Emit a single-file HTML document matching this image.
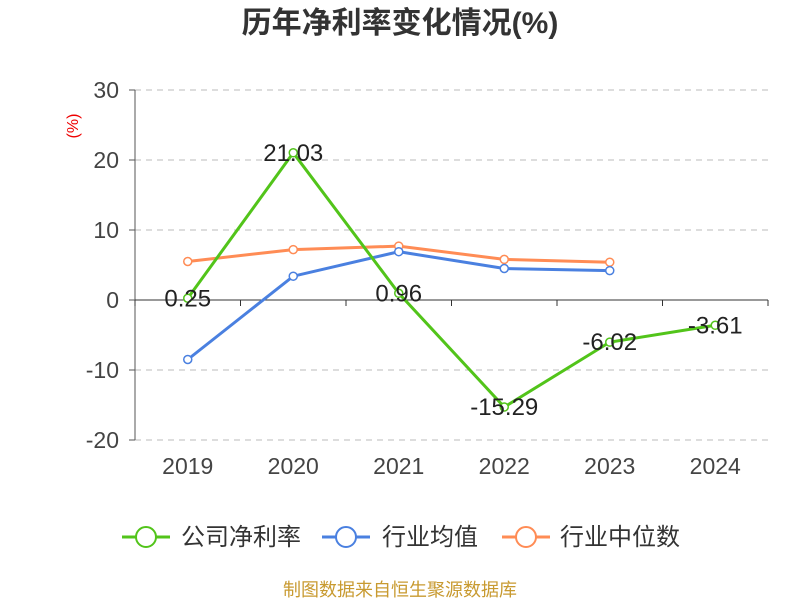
<!DOCTYPE html>
<html><head><meta charset="utf-8"><style>
body{margin:0;background:#fff;}
svg text{font-family:"Liberation Sans","Noto Sans CJK SC",sans-serif;}
</style></head><body>
<svg width="800" height="600" viewBox="0 0 800 600">
<text x="400" y="33" text-anchor="middle" font-size="30" font-weight="bold" fill="#333">历年净利率变化情况(%)</text>
<text x="78" y="126" text-anchor="middle" font-size="16" fill="#e00" transform="rotate(-90 78 126)">(%)</text>
<g id="grid"></g><g id="axes"></g><g id="series"></g>
<g>
<g><line x1="122" y1="537" x2="170" y2="537" stroke="#52c41a" stroke-width="3"/><circle cx="146" cy="537" r="10" fill="#fff" stroke="#52c41a" stroke-width="2"/><text x="181" y="545" font-size="24" fill="#333">公司净利率</text></g>
<g><line x1="322" y1="537" x2="370" y2="537" stroke="#4a80e0" stroke-width="3"/><circle cx="346" cy="537" r="10" fill="#fff" stroke="#4a80e0" stroke-width="2"/><text x="382" y="545" font-size="24" fill="#333">行业均值</text></g>
<g><line x1="502" y1="537" x2="550" y2="537" stroke="#ff8c55" stroke-width="3"/><circle cx="526" cy="537" r="10" fill="#fff" stroke="#ff8c55" stroke-width="2"/><text x="560" y="545" font-size="24" fill="#333">行业中位数</text></g>
</g>
<text x="400" y="596" text-anchor="middle" font-size="18" fill="#c89a30">制图数据来自恒生聚源数据库</text>
</svg>
<script>
const categories=["2019","2020","2021","2022","2023","2024"];
const companyValues=[0.25,21.03,0.96,-15.29,-6.02,-3.61];
const industryAvg=[-8.5,3.4,6.9,4.5,4.2];
const industryMedian=[5.5,7.2,7.7,5.8,5.4];
const yTicks=[30,20,10,0,-10,-20];
const NS="http://www.w3.org/2000/svg";
const x0=135,x1=768,yTop=90,yBot=440,yMax=30,yMin=-20;
const bw=(x1-x0)/categories.length;
const xs=i=>x0+bw*(i+0.5);
const ys=v=>yTop+(yMax-v)/(yMax-yMin)*(yBot-yTop);
function mk(tag,attrs,parent){const e=document.createElementNS(NS,tag);for(const k in attrs)e.setAttribute(k,attrs[k]);parent.appendChild(e);return e;}
const grid=document.getElementById('grid'),axes=document.getElementById('axes'),ser=document.getElementById('series');
yTicks.forEach(t=>{
 if(t!==0){const l=mk('line',{x1:x0,x2:x1,y1:ys(t),y2:ys(t),stroke:'#bbb','stroke-dasharray':'6,5'},grid);
 
 }
 const tx=mk('text',{x:119,y:ys(t)+8,'text-anchor':'end','font-size':23,fill:'#444'},axes);tx.textContent=t;
 
 
 const tk=mk('line',{x1:x0-6,x2:x0,y1:ys(t),y2:ys(t),stroke:'#555'},axes);
 
 
});
const ya=mk('line',{x1:x0,x2:x0,y1:yTop,y2:yBot,stroke:'#555'},axes);


const xa=mk('line',{x1:x0,x2:x1,y1:ys(0),y2:ys(0),stroke:'#333'},axes);


for(let i=0;i<=categories.length;i++){const t=mk('line',{x1:x0+bw*i,x2:x0+bw*i,y1:ys(0),y2:ys(0)+6,stroke:'#333'},axes);
 
 }
categories.forEach((c,i)=>{const t=mk('text',{x:xs(i),y:474,'text-anchor':'middle','font-size':23,fill:'#444'},axes);t.textContent=c;
 
 });
function series(vals,color,name,labels){
 const g=mk('g',{},ser);
 
 
 const pl=mk('polyline',{points:vals.map((v,i)=>xs(i)+','+ys(v)).join(' '),fill:'none',stroke:color,'stroke-width':3},g);
 
 
 vals.forEach((v,i)=>{const c=mk('circle',{cx:xs(i),cy:ys(v),r:4,fill:'#fff',stroke:color,'stroke-width':1.5},g);
  
  
  if(labels){const t=mk('text',{x:xs(i),y:ys(v)+8,'text-anchor':'middle','font-size':24,fill:'#222'},g);t.textContent=v.toFixed(2);
   
   }});
}
series(industryMedian,'#ff8c55','industry-median-series',false);
series(industryAvg,'#4a80e0','industry-avg-series',false);
series(companyValues,'#52c41a','company-series',true);
</script>
</body></html>
